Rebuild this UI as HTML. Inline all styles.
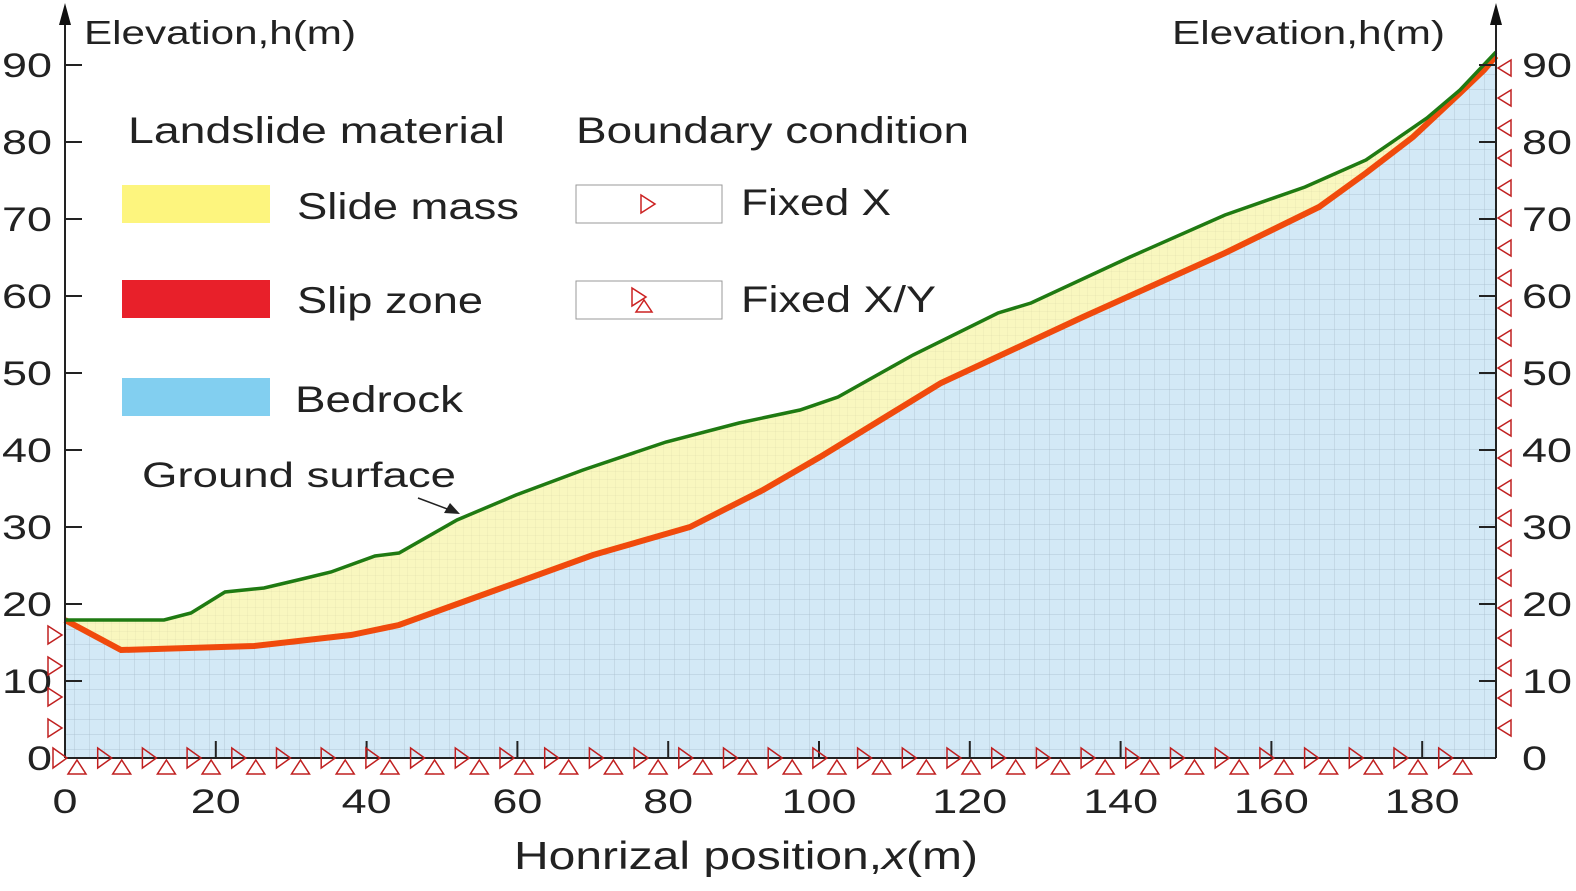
<!DOCTYPE html>
<html><head><meta charset="utf-8"><style>
body{margin:0;background:#fff;}
svg text{font-family:"Liberation Sans",sans-serif;fill:#222;}
</style></head><body>
<svg id="s" width="1576" height="886" viewBox="0 0 1576 886" xmlns="http://www.w3.org/2000/svg">
<defs>
<pattern id="g" width="15" height="15" patternUnits="userSpaceOnUse"><path d="M15 0V15M0 15H15" stroke="#9fb4c2" stroke-width="0.7" fill="none"/></pattern>
<pattern id="g2" width="8" height="8" patternUnits="userSpaceOnUse"><path d="M8 0V8M0 8H8" stroke="#c9c79a" stroke-width="0.5" fill="none"/></pattern>
</defs>
<g id="shapes"></g>
<line x1="65" y1="758" x2="1495" y2="758" stroke="#222" stroke-width="2"/>
<line x1="65" y1="758" x2="65" y2="15" stroke="#222" stroke-width="2"/>
<line x1="1496" y1="758" x2="1496" y2="15" stroke="#222" stroke-width="2"/>
<path d="M59,25 L65,3 L71,25 Z" fill="#111"/>
<path d="M1490,25 L1496,3 L1502,25 Z" fill="#111"/>
<text x="84" y="44" font-size="33" textLength="272" lengthAdjust="spacingAndGlyphs">Elevation,h(m)</text>
<text x="1172" y="44" font-size="33" textLength="273" lengthAdjust="spacingAndGlyphs">Elevation,h(m)</text>
<text x="514" y="869" font-size="39" textLength="464" lengthAdjust="spacingAndGlyphs">Honrizal position,<tspan font-style="italic">x</tspan>(m)</text>
<g id="ticks"></g>
<text x="128" y="143" font-size="37" textLength="377" lengthAdjust="spacingAndGlyphs">Landslide material</text>
<text x="576" y="143" font-size="37" textLength="393" lengthAdjust="spacingAndGlyphs">Boundary condition</text>
<rect x="122" y="185" width="148" height="38" fill="#fdf57e"/>
<rect x="122" y="280" width="148" height="38" fill="#e8202a"/>
<rect x="122" y="378" width="148" height="38" fill="#82cff0"/>
<text x="297" y="219" font-size="37" textLength="222" lengthAdjust="spacingAndGlyphs">Slide mass</text>
<text x="297" y="313" font-size="37" textLength="186" lengthAdjust="spacingAndGlyphs">Slip zone</text>
<text x="295" y="412" font-size="37" textLength="168" lengthAdjust="spacingAndGlyphs">Bedrock</text>
<rect x="576" y="185" width="146" height="38" fill="#fff" stroke="#999"/>
<rect x="576" y="281" width="146" height="38" fill="#fff" stroke="#999"/>
<path d="M641,195 L655,204 L641,213 Z" fill="none" stroke="#c22" stroke-width="1.5"/>
<path d="M632,288 L646,297 L632,306 Z M644,300 L636,312 L652,312 Z" fill="none" stroke="#c22" stroke-width="1.5"/>
<text x="741" y="215" font-size="37" textLength="150" lengthAdjust="spacingAndGlyphs">Fixed X</text>
<text x="741" y="312" font-size="37" textLength="195" lengthAdjust="spacingAndGlyphs">Fixed X/Y</text>
<text x="142" y="487" font-size="35" textLength="314" lengthAdjust="spacingAndGlyphs">Ground surface</text>
<line x1="418" y1="498" x2="450" y2="510" stroke="#222" stroke-width="1.5"/>
<path d="M460,514 L444,513 L450,503 Z" fill="#222"/>
<g id="bc"></g>
</svg>
<script>
var NS="http://www.w3.org/2000/svg",t=document.getElementById("ticks"),b=document.getElementById("bc"),sh=document.getElementById("shapes");
function el(p,tag,a,txt){var e=document.createElementNS(NS,tag);for(var k in a)e.setAttribute(k,a[k]);if(txt!=null)e.textContent=txt;p.appendChild(e);return e;}
var G=[[65,620],[164,620],[191,613],[225,592],[264,588],[302,579],[331,572],[375,556],[399,553],[457,520],[516,495],[583,470],[666,442],[739,423],[800,410],[838,397],[913,355],[998,313],[1031,303],[1130,257],[1225,215],[1305,187],[1366,160],[1427,118],[1460,90],[1496,52]];
var S=[[65,620],[121,650],[254,646],[351,635],[399,625],[496,590],[593,555],[690,527],[763,490],[820,457],[941,383],[1083,317],[1225,253],[1319,207],[1366,173],[1413,137],[1460,93],[1484,70],[1496,56]];
function pts(a){return a.map(function(p){return p[0]+","+p[1];}).join(" L");}
var Srev=S.slice().reverse();
var bed="M65,758 L1496,758 L"+pts(Srev)+" Z";
var mass="M"+pts(G)+" L"+pts(Srev)+" Z";
el(sh,"path",{d:bed,fill:"#d3e9f6"});
el(sh,"path",{d:bed,fill:"url(#g)",opacity:0.85});
el(sh,"path",{d:mass,fill:"#f9f7bf"});
el(sh,"path",{d:mass,fill:"url(#g2)",opacity:0.6});
el(sh,"path",{d:"M"+pts(S),fill:"none",stroke:"#f04a0c","stroke-width":6});
el(sh,"path",{d:"M"+pts(G),fill:"none",stroke:"#1f7a12","stroke-width":3.5});
for(var i=0;i<=9;i++){var y=758-i*77;var s=""+i*10;
 el(t,"line",{x1:65,y1:y,x2:82,y2:y,stroke:"#222","stroke-width":2});
 el(t,"line",{x1:1479,y1:y,x2:1496,y2:y,stroke:"#222","stroke-width":2});
 el(t,"text",{x:i==0?27:2,y:y+12,"font-size":34,textLength:s.length*25,lengthAdjust:"spacingAndGlyphs"},s);
 el(t,"text",{x:1522,y:y+12,"font-size":34,textLength:s.length*25,lengthAdjust:"spacingAndGlyphs"},s);}
for(var i=0;i<=9;i++){var x=65+i*150.8;var s=""+i*20;
 el(t,"line",{x1:x,y1:758,x2:x,y2:741,stroke:"#222","stroke-width":2});
 el(t,"text",{x:x-s.length*12.5,y:813,"font-size":34,textLength:s.length*25,lengthAdjust:"spacingAndGlyphs"},s);}
for(var x=65;x<=1495;x+=44.7){
 el(b,"path",{d:"M"+(x-12)+",748 L"+(x+2)+",758 L"+(x-12)+",768 Z M"+(x+12)+",760 L"+(x+3)+",774 L"+(x+21)+",774 Z",fill:"none",stroke:"#c02020","stroke-width":1.5});}
for(var y=635;y<=745;y+=31){el(b,"path",{d:"M48,"+(y-9)+" L62,"+y+" L48,"+(y+9)+" Z",fill:"none",stroke:"#c02020","stroke-width":1.5});}
for(var y=68;y<=745;y+=30){el(b,"path",{d:"M1511,"+(y-8)+" L1498,"+y+" L1511,"+(y+8)+" Z",fill:"none",stroke:"#c02020","stroke-width":1.5});}
</script>
</body></html>
